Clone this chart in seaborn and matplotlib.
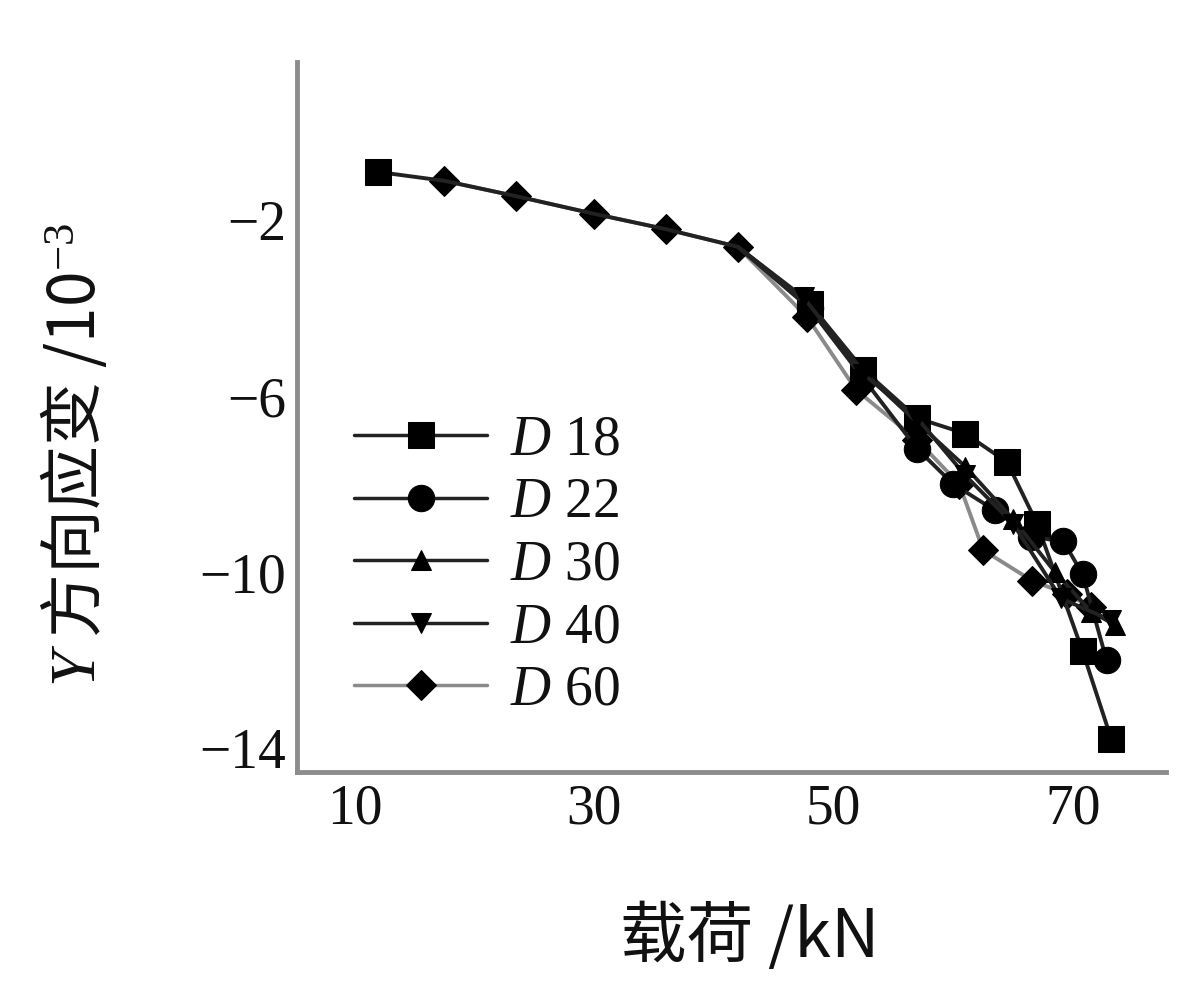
import matplotlib
matplotlib.use("Agg")
import matplotlib.pyplot as plt
import seaborn as sns
import pandas as pd

# =====================================================================
# Données (charge en kN, déformation en 10^-3)
# =====================================================================
x_common = [17.5, 23.5, 30.0, 36.0, 42.0]
y_common = [-1.1, -1.45, -1.85, -2.2, -2.6]

d18_x = [12.0] + x_common + [48.0, 52.5, 57.0, 61.0, 64.5, 67.0, 70.8, 73.2]
d18_y = [-0.9] + y_common + [-3.9, -5.4, -6.5, -6.85, -7.5, -8.9, -11.8, -13.8]

d22_x = [42.0, 48.0, 52.5, 57.0, 60.0, 63.5, 66.5, 69.2, 70.8, 72.8]
d22_y = [-2.6, -4.0, -5.6, -7.2, -8.0, -8.6, -9.2, -9.3, -10.05, -12.0]

d30_x = [42.0, 48.0, 52.5, 57.0, 61.0, 65.0, 68.5, 71.5, 73.5]
d30_y = [-2.6, -3.9, -5.45, -6.6, -7.6, -8.8, -10.0, -10.9, -11.2]

d40_x = [42.0, 47.5, 52.5, 57.0, 61.0, 65.0, 69.0, 73.2]
d40_y = [-2.6, -3.75, -5.5, -6.5, -7.8, -8.9, -10.6, -11.1]

d60_x = x_common + [47.8, 51.9, 57.0, 60.5, 62.5, 66.6, 69.5, 71.5]
d60_y = y_common + [-4.2, -5.86, -7.0, -8.0, -9.5, -10.2, -10.5, -10.8]

labels = ["$D$ 18", "$D$ 22", "$D$ 30", "$D$ 40", "$D$ 60"]
markers = ["s", "o", "^", "v", "D"]
line_colors = ["#222222", "#222222", "#222222", "#222222", "#8a8a8a"]
msizes = [19, 19, 15, 15, 15]

series_x = [d18_x, d22_x, d30_x, d40_x, d60_x]
series_y = [d18_y, d22_y, d30_y, d40_y, d60_y]

# points de la partie commune : seuls les losanges de D 60 y sont visibles
mark_idx = [
    [0] + list(range(6, len(d18_x))),
    list(range(1, len(d22_x))),
    list(range(1, len(d30_x))),
    list(range(1, len(d40_x))),
    list(range(len(d60_x))),
]

# =====================================================================
# Style
# =====================================================================
sns.set_style("white")
plt.rcParams["font.family"] = ["Liberation Serif", "Noto Sans CJK SC", "DejaVu Sans"]
plt.rcParams["mathtext.fontset"] = "custom"
plt.rcParams["mathtext.rm"] = "Liberation Serif"
plt.rcParams["mathtext.it"] = "Liberation Serif:italic"
plt.rcParams["axes.unicode_minus"] = True

fig = plt.figure(figsize=(12, 10.02), dpi=100)
ax = fig.add_axes([0.2475, 0.2295, 0.7245, 0.7085])

# D 60 tracée en premier (ligne grise sous les autres)
order = [4, 0, 1, 2, 3]
for i in order:
    df = pd.DataFrame({"charge": series_x[i], "def": series_y[i]})
    sns.lineplot(data=df, x="charge", y="def", ax=ax, color=line_colors[i],
                 linewidth=2.8, marker=markers[i], markersize=msizes[i],
                 markerfacecolor="black", markeredgecolor="black",
                 markevery=mark_idx[i], label=labels[i], sort=False,
                 zorder=1.9 if i == 4 else 2)

ax.set_xlim(5.2, 77.8)
ax.set_ylim(-14.55, 1.6)
ax.set_xticks([10, 30, 50, 70])
ax.set_yticks([-2, -6, -10, -14])

for side in ["top", "right"]:
    ax.spines[side].set_visible(False)
for side in ["left", "bottom"]:
    ax.spines[side].set_color("#8c8c8c")
    ax.spines[side].set_linewidth(3.5)

ax.tick_params(direction="in", length=9, width=2, color="#8c8c8c",
               labelsize=40, labelcolor="#111111", pad=8)

ax.set_xlabel("载荷 /kN", fontsize=48, family=["Noto Sans CJK SC", "Liberation Serif"],
              color="#111111")
ax.xaxis.set_label_coords(0.521, -0.185)
ax.set_ylabel("$Y$ 方向应变 /10$^{-3}$", fontsize=46,
              family=["Noto Sans CJK SC", "Liberation Serif"], color="#111111")
ax.yaxis.set_label_coords(-0.215, 0.446)

handles, labs = ax.get_legend_handles_labels()
hmap = dict(zip(labs, handles))
leg = ax.legend([hmap[l] for l in labels], labels, loc="upper left",
                bbox_to_anchor=(0.04, 0.535), frameon=False,
                fontsize=40, handlelength=2.4, handletextpad=0.4,
                labelspacing=0.19, borderaxespad=0)
for t in leg.get_texts():
    t.set_color("#111111")
for h in leg.legend_handles:
    h.set_linewidth(2.5)
    h.set_markevery([1])

fig.savefig("out.png", dpi=100)
